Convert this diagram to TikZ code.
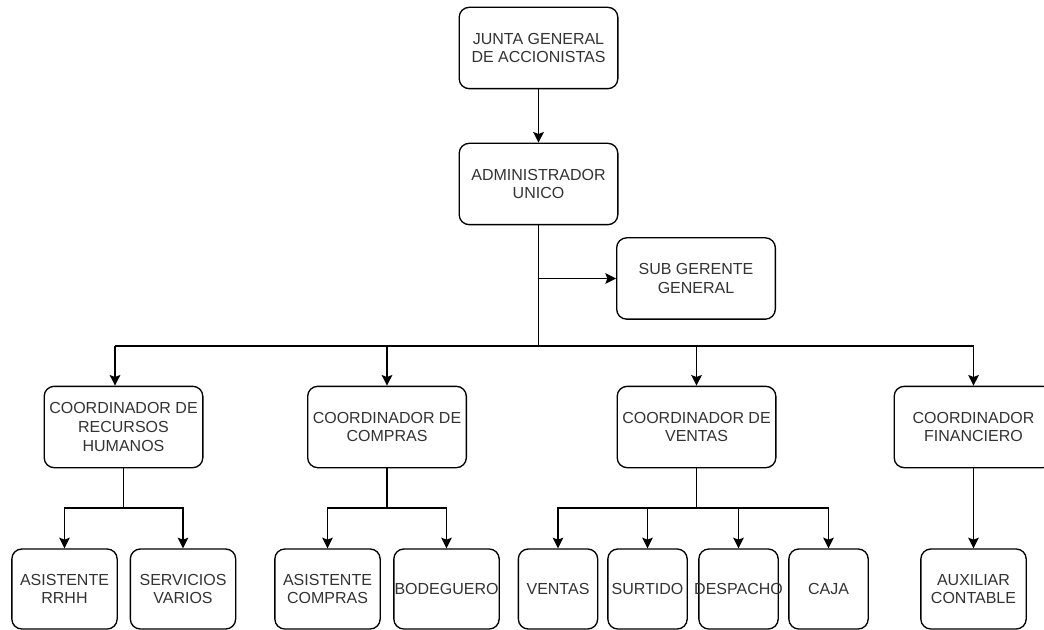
\documentclass[tikz,border=0pt]{standalone}
\usepackage{fontspec}
\setmainfont{Liberation Sans}
\usetikzlibrary{arrows.meta}
\definecolor{txt}{HTML}{333333}
\tikzset{
  box/.style={draw=black, line width=1pt, rounded corners=7.5pt, fill=white,
    inner sep=0pt, align=center, text=txt,
    font=\fontsize{12}{14}\selectfont},
  big/.style={box, minimum width=119pt, minimum height=61pt},
  small/.style={box, minimum width=79pt, minimum height=60pt},
  tiny/.style={box, minimum width=59.5pt, minimum height=60pt},
  conn/.style={line width=1pt, draw=black},
  arr/.style={conn, -{Stealth[length=8pt,width=8pt,inset=1.5pt]}}
}
\begin{document}
\begin{tikzpicture}[x=0.75pt,y=-0.75pt]
\useasboundingbox (0,0) rectangle (1044,630);
\fill[white] (0,0) rectangle (1044,630);

\node[big] (junta) at (538.5,48) {JUNTA GENERAL\\DE ACCIONISTAS};
\node[big] (admin) at (538.5,184) {ADMINISTRADOR\\UNICO};
\node[big] (sub) at (696,278.5) {SUB GERENTE\\GENERAL};

\node[big] (rrhh) at (123.5,427) {COORDINADOR DE\\RECURSOS\\HUMANOS};
\node[big] (compras) at (387,427) {COORDINADOR DE\\COMPRAS};
\node[big] (ventasc) at (696.5,427) {COORDINADOR DE\\VENTAS};
\node[big] (fin) at (973.5,427) {COORDINADOR\\FINANCIERO};

\node[small] (asrrhh) at (64.5,589) {ASISTENTE\\RRHH};
\node[small] (serv) at (183,589) {SERVICIOS\\VARIOS};
\node[small] (ascomp) at (327.5,589) {ASISTENTE\\COMPRAS};
\node[small] (bodeg) at (446.5,589) {BODEGUERO};
\node[tiny] (ventas) at (558,589) {VENTAS};
\node[tiny] (surtido) at (647.5,589) {SURTIDO};
\node[tiny] (despacho) at (738.5,589) {\makebox[0pt]{DESPACHO}};
\node[tiny] (caja) at (828.5,589) {CAJA};
\node[small] (aux) at (973.5,589) {AUXILIAR\\CONTABLE};

% top
\draw[arr] (junta) -- (admin);
\coordinate (subj) at (538.5,278.5);
\coordinate (bus) at (538.5,346);
\coordinate (busL) at (115,346);
\coordinate (busR) at (973.5,346);
\draw[conn] (admin.south) -- (bus);
\draw[arr] (subj) -- (sub.west);
\draw[conn] (busL) -- (busR);
\draw[arr] (busL) -- (busL |- rrhh.north);
\draw[arr] (compras.north |- bus) -- (compras.north);
\draw[arr] (ventasc.north |- bus) -- (ventasc.north);
\draw[arr] (busR) -- (fin.north);

% rrhh children
\coordinate (rj) at (123.5,508);
\draw[conn] (rrhh.south) -- (rj);
\draw[arr] (rj) -| (asrrhh.north);
\draw[arr] (rj) -| (serv.north);

% compras children
\coordinate (cj) at (387,508);
\draw[conn] (compras.south) -- (cj);
\draw[arr] (cj) -| (ascomp.north);
\draw[arr] (cj) -| (bodeg.north);

% ventas children
\coordinate (vj) at (696.5,508);
\draw[conn] (ventasc.south) -- (vj);
\draw[arr] (vj) -| (ventas.north);
\draw[arr] (vj) -| (surtido.north);
\draw[arr] (vj) -| (despacho.north);
\draw[arr] (vj) -| (caja.north);

% financiero
\draw[arr] (fin) -- (aux);
\end{tikzpicture}
\end{document}
